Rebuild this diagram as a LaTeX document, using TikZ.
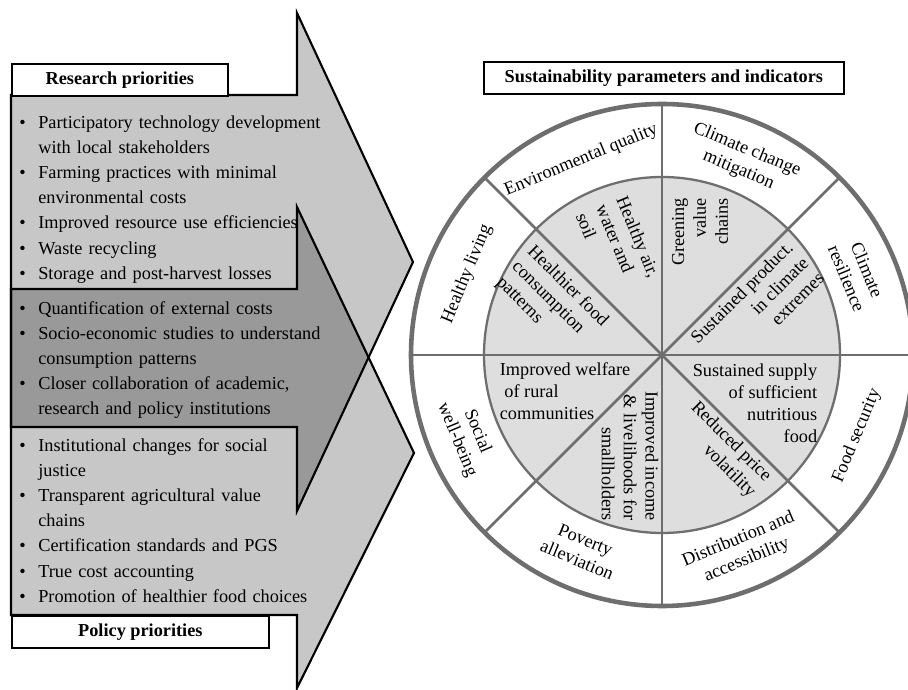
\documentclass[tikz,border=0pt]{standalone}
\usepackage{fontspec}
\setmainfont{Liberation Serif}
\usepackage{tikz}
\usetikzlibrary{shapes,calc,positioning}

\definecolor{arrowlight}{gray}{0.78}
\definecolor{arrowdark}{gray}{0.60}
\definecolor{wheelgray}{gray}{0.43}
\definecolor{wheelfill}{gray}{0.87}

\newcommand{\pitem}[1]{\par\noindent\hangindent=0.38cm\hangafter=1\makebox[0.38cm][l]{\textbullet}#1\par}

\tikzset{
  outline/.style={draw=black, line width=1.2pt, line join=miter},
  labbox/.style={draw=black, fill=white, line width=1pt, inner sep=0pt, anchor=north west,
    minimum height=0.64cm, font=\fontsize{10.4}{12.5}\selectfont\bfseries},
  listbox/.style={anchor=north west, inner sep=0pt, text width=8cm, align=left,
    font=\fontsize{10.4}{14.3}\selectfont},
  spoke/.style={draw=wheelgray, line width=1.5pt},
  rim/.style={draw=wheelgray, line width=2.6pt},
  ringtxt/.style={inner sep=0pt, align=center, font=\fontsize{10.4}{12.5}\selectfont}
}

\begin{document}
\begin{tikzpicture}[x=0.02cm, y=0.02cm]
  \clip (0,0) rectangle (908,689);
  \fill[white] (0,0) rectangle (908,689);

  % research and policy arrows
  \fill[arrowlight] (11,594) -- (297,594) -- (297,676) -- (413,427) -- (297,178) -- (297,262) -- (11,262) -- cycle;
  \fill[arrowlight] (11,400) -- (297,400) -- (297,482) -- (414,236) -- (297,1) -- (297,74) -- (11,74) -- cycle;
  \begin{scope}
    \clip (11,594) -- (297,594) -- (297,676) -- (413,427) -- (297,178) -- (297,262) -- (11,262) -- cycle;
    \fill[arrowdark] (11,400) -- (297,400) -- (297,482) -- (414,236) -- (297,1) -- (297,74) -- (11,74) -- cycle;
  \end{scope}
  \draw[outline] (11,594) -- (297,594) -- (297,676) -- (413,427) -- (297,178) -- (297,262) -- (11,262) -- cycle;
  \draw[outline] (11,400) -- (297,400) -- (297,482) -- (414,236) -- (297,1) -- (297,74) -- (11,74) -- cycle;

  \node[labbox, minimum width=4.32cm] (research) at (11,626) {Research priorities};
  \node[labbox, minimum width=5.14cm] (policy) at (11,74) {Policy priorities};

  \node[listbox] (reslist) at (19,586) {%
    \pitem{Participatory technology development\newline with local stakeholders}
    \pitem{Farming practices with minimal\newline environmental costs}
    \pitem{Improved resource use efficiencies}
    \pitem{Waste recycling}
    \pitem{Storage and post-harvest losses}};
  \node[listbox] (midlist) at (19,400) {%
    \pitem{Quantification of external costs}
    \pitem{Socio-economic studies to understand\newline consumption patterns}
    \pitem{Closer collaboration of academic,\newline research and policy institutions}};
  \node[listbox] (pollist) at (19,263) {%
    \pitem{Institutional changes for social\newline justice}
    \pitem{Transparent agricultural value\newline chains}
    \pitem{Certification standards and PGS}
    \pitem{True cost accounting}
    \pitem{Promotion of healthier food choices}};

  % sustainability wheel
  \node[labbox, minimum width=7.2cm] (params) at (483,628) {Sustainability parameters and indicators};
  \coordinate (hub) at (662,334);
  \begin{scope}[shift={(hub)}]
    \fill[wheelfill] (0,0) circle (178);
    \foreach \a in {0,45,...,315}
      \draw[spoke] (0,0) -- (\a:251);
    \draw[spoke, line width=1.3pt] (0,0) circle (178);
    \draw[rim] (0,0) circle (251);

    \node[ringtxt, rotate=22.5] (envq) at (112.5:211) {Environmental quality};
    \node[ringtxt, rotate=-22.5] (ccm) at (67.5:211) {Climate change\\mitigation};
    \node[ringtxt, rotate=-67.5] (cres) at (22.5:211) {Climate\\resilience};
    \node[ringtxt, rotate=67.5] (fsec) at (-22.5:211) {Food security};
    \node[ringtxt, rotate=22.5] (dist) at (-67.5:211) {Distribution and\\accessibility};
    \node[ringtxt, rotate=-22.5] (pov) at (-112.5:211) {Poverty\\alleviation};
    \node[ringtxt, rotate=-67.5] (soc) at (-157.5:211) {Social\\well-being};
    \node[ringtxt, rotate=67.5] (hliv) at (157.5:211) {Healthy living};

    \node[ringtxt, align=left, rotate=-67.5] (air) at (-44,110) {Healthy air,\\water and\\soil};
    \node[ringtxt, align=right, rotate=90] (green) at (38,123) {Greening\\value\\chains};
    \node[ringtxt, align=right, rotate=45] (prod) at (95,47) {Sustained product.\\in climate\\extremes};
    \node[ringtxt, align=right] (supply) at (93,-48) {Sustained supply\\of sufficient\\nutritious\\food};
    \node[ringtxt, align=right, rotate=-45] (price) at (61,-95) {Reduced price\\volatility};
    \node[ringtxt, align=right, rotate=-90] (income) at (-32,-101) {Improved income\\\& livelihoods for\\smallholders};
    \node[ringtxt, align=left] (welfare) at (-97,-36) {Improved welfare\\\ of rural\\communities};
    \node[ringtxt, align=left, rotate=-45] (hfood) at (-110,53) {Healthier food\\consumption\\patterns};
  \end{scope}
\end{tikzpicture}
\end{document}
